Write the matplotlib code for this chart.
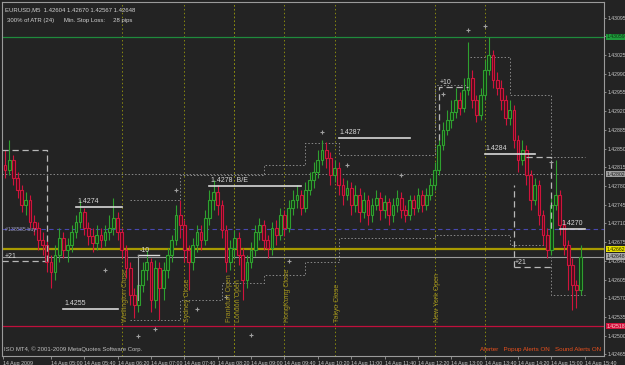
import matplotlib
matplotlib.use('Agg')
import matplotlib.pyplot as plt
from matplotlib.patches import Rectangle
from matplotlib.transforms import blended_transform_factory

plt.rcParams['font.family'] = ['Liberation Sans', 'DejaVu Sans']

# ---------------- data ----------------
first_open = 1.42819
closes = [1.42810, 1.42828, 1.42795, 1.42772, 1.42744, 1.42754, 1.42712, 1.42701, 1.42679, 1.42669,
          1.42638, 1.42619, 1.42651, 1.42682, 1.42660, 1.42669, 1.42694, 1.42712, 1.42731, 1.42701,
          1.42686, 1.42673, 1.42688, 1.42679, 1.42694, 1.42701, 1.42720, 1.42694, 1.42660, 1.42626,
          1.42576, 1.42557, 1.42594, 1.42623, 1.42638, 1.42566, 1.42626, 1.42589, 1.42623, 1.42651,
          1.42679, 1.42726, 1.42707, 1.42660, 1.42638, 1.42669, 1.42694, 1.42679, 1.42720, 1.42754,
          1.42769, 1.42744, 1.42697, 1.42638, 1.42664, 1.42682, 1.42651, 1.42604, 1.42638, 1.42660,
          1.42694, 1.42707, 1.42679, 1.42664, 1.42701, 1.42688, 1.42726, 1.42701, 1.42739, 1.42754,
          1.42763, 1.42739, 1.42772, 1.42791, 1.42806, 1.42828, 1.42847, 1.42832, 1.42800, 1.42814,
          1.42782, 1.42763, 1.42776, 1.42744, 1.42763, 1.42731, 1.42754, 1.42726, 1.42744, 1.42757,
          1.42735, 1.42750, 1.42726, 1.42744, 1.42757, 1.42735, 1.42726, 1.42754, 1.42739, 1.42763,
          1.42744, 1.42763, 1.42782, 1.42810, 1.42857, 1.42885, 1.42903, 1.42918, 1.42941, 1.42926,
          1.42960, 1.42982, 1.42941, 1.42913, 1.42950, 1.42997, 1.43025, 1.42978, 1.42963, 1.42941,
          1.42907, 1.42922, 1.42866, 1.42828, 1.42847, 1.42800, 1.42754, 1.42782, 1.42726, 1.42688,
          1.42660, 1.42744, 1.42763, 1.42707, 1.42669, 1.42632, 1.42594, 1.42585, 1.42648]
highs = [1.42847, 1.42866, 1.42838, 1.42806, 1.42782, 1.42769, 1.42763, 1.42726, 1.42712, 1.42694,
         1.42679, 1.42651, 1.42669, 1.42701, 1.42694, 1.42682, 1.42707, 1.42726, 1.42754, 1.42739,
         1.42712, 1.42701, 1.42707, 1.42701, 1.42707, 1.42726, 1.42757, 1.42731, 1.42701, 1.42669,
         1.42638, 1.42589, 1.42604, 1.42638, 1.42660, 1.42645, 1.42641, 1.42638, 1.42638, 1.42664,
         1.42688, 1.42744, 1.42754, 1.42716, 1.42669, 1.42682, 1.42707, 1.42707, 1.42735, 1.42772,
         1.42791, 1.42782, 1.42754, 1.42707, 1.42679, 1.42697, 1.42694, 1.42664, 1.42651, 1.42675,
         1.42707, 1.42720, 1.42716, 1.42688, 1.42712, 1.42716, 1.42739, 1.42735, 1.42754, 1.42772,
         1.42782, 1.42772, 1.42787, 1.42806, 1.42825, 1.42847, 1.42866, 1.42862, 1.42844, 1.42828,
         1.42825, 1.42795, 1.42791, 1.42787, 1.42782, 1.42776, 1.42769, 1.42763, 1.42757, 1.42772,
         1.42769, 1.42763, 1.42757, 1.42757, 1.42772, 1.42769, 1.42744, 1.42763, 1.42763, 1.42776,
         1.42772, 1.42776, 1.42795, 1.42825, 1.42870, 1.42900, 1.42922, 1.42941, 1.42963, 1.42956,
         1.42982, 1.43049, 1.42997, 1.42950, 1.42963, 1.43016, 1.43059, 1.43034, 1.42993, 1.42978,
         1.42950, 1.42941, 1.42931, 1.42875, 1.42866, 1.42857, 1.42810, 1.42795, 1.42791, 1.42735,
         1.42701, 1.42757, 1.42828, 1.42772, 1.42716, 1.42679, 1.42645, 1.42604, 1.42669]
lows = [1.42795, 1.42800, 1.42782, 1.42757, 1.42731, 1.42726, 1.42701, 1.42688, 1.42660, 1.42651,
        1.42619, 1.42589, 1.42604, 1.42638, 1.42645, 1.42638, 1.42656, 1.42682, 1.42701, 1.42688,
        1.42669, 1.42656, 1.42660, 1.42664, 1.42667, 1.42679, 1.42688, 1.42679, 1.42645, 1.42608,
        1.42557, 1.42533, 1.42544, 1.42581, 1.42604, 1.42544, 1.42551, 1.42529, 1.42566, 1.42608,
        1.42638, 1.42669, 1.42682, 1.42638, 1.42585, 1.42623, 1.42656, 1.42660, 1.42669, 1.42707,
        1.42735, 1.42726, 1.42682, 1.42619, 1.42623, 1.42645, 1.42632, 1.42566, 1.42589, 1.42626,
        1.42649, 1.42679, 1.42660, 1.42645, 1.42651, 1.42669, 1.42679, 1.42686, 1.42694, 1.42726,
        1.42739, 1.42726, 1.42731, 1.42763, 1.42776, 1.42795, 1.42819, 1.42814, 1.42782, 1.42787,
        1.42763, 1.42744, 1.42754, 1.42726, 1.42731, 1.42712, 1.42720, 1.42707, 1.42712, 1.42735,
        1.42716, 1.42720, 1.42707, 1.42712, 1.42731, 1.42720, 1.42712, 1.42716, 1.42726, 1.42731,
        1.42731, 1.42735, 1.42754, 1.42772, 1.42800, 1.42847, 1.42875, 1.42888, 1.42907, 1.42913,
        1.42918, 1.42950, 1.42926, 1.42900, 1.42903, 1.42941, 1.42988, 1.42963, 1.42950, 1.42922,
        1.42894, 1.42894, 1.42851, 1.42806, 1.42819, 1.42782, 1.42735, 1.42744, 1.42707, 1.42669,
        1.42645, 1.42651, 1.42735, 1.42688, 1.42651, 1.42585, 1.42548, 1.42551, 1.42576]
opens = [first_open] + closes[:-1]

time_label_bars = [-0.6, 11, 19, 27, 35, 43, 51, 59, 67, 75, 83, 91, 99, 107, 115, 123, 131, 139]
time_labels = ['14 Aug 2009', '14 Aug 05:00', '14 Aug 05:40', '14 Aug 06:20', '14 Aug 07:00',
               '14 Aug 07:40', '14 Aug 08:20', '14 Aug 09:00', '14 Aug 09:40', '14 Aug 10:20',
               '14 Aug 11:00', '14 Aug 11:40', '14 Aug 12:20', '14 Aug 13:00', '14 Aug 13:40',
               '14 Aug 14:20', '14 Aug 15:00', '14 Aug 15:40']
price_ticks = [1.42465, 1.42500, 1.42535, 1.42570, 1.42605, 1.42640, 1.42675, 1.42710, 1.42745,
               1.42780, 1.42815, 1.42850, 1.42885, 1.42920, 1.42955, 1.42990, 1.43025, 1.43060, 1.43095]

# session markers
session_bars = [28, 43, 55, 55, 67, 79, 103]
session_names = ['Wellington Close', 'Sydney Close', 'Frankfurt Open', 'London Open',
                 'HongKong Close', 'Tokyo Close', 'New York Open']
extra_vline_bars = [115]

# key price levels
level_high = 1.43059
level_range = 1.42802
level_order = 1.42699
level_yellow = 1.42662
level_close = 1.42648
level_low = 1.42518

# trade level segments (label, price, start bar, end bar)
seg_labels = ['1.4255', '1.4274', '1.4278  B/E', '1.4287', '1.4284', '1.4270']
seg_prices = [1.4255, 1.4274, 1.4278, 1.4287, 1.4284, 1.4270]
seg_start = [14, 17, 49, 80, 115, 133]
seg_end = [27, 28, 71, 97, 127, 139]

# ATR stop envelopes (step lines)
env_bars = [30, 42, 52, 62, 72, 80, 103, 111, 121, 131, 139]
env_upper = [1.42754, 1.42800, 1.42800, 1.42819, 1.42860, 1.42838, 1.42969, 1.43021, 1.42950, 1.42834, 1.42834]
env_lower = [1.42529, 1.42566, 1.42599, 1.42613, 1.42638, 1.42682, 1.42688, 1.42688, 1.42669, 1.42576, 1.42576]

# fractal markers
frac_bars = [24, 32, 36, 41, 46, 53, 59, 68, 76, 82, 95, 105, 111, 115, 131]
frac_prices = [1.42623, 1.42499, 1.42512, 1.42772, 1.42550, 1.42572, 1.42501, 1.42639,
               1.42880, 1.42820, 1.42800, 1.42952, 1.43072, 1.43079, 1.42825]

# ---------------- figure ----------------
BG = '#232323'
GREEN = '#2fa02f'
RED = '#d0143c'
fig = plt.figure(figsize=(6.25, 3.65), dpi=100, facecolor=BG)
ax = fig.add_axes([2/625, 1 - 356/365, 602/625, 354/365])
ax.set_facecolor(BG)
ax.set_xlim(-0.72, 143.6)
ax.set_ylim(1.42462, 1.43124)

for s in ax.spines.values():
    s.set_color('#9a9a9a')
    s.set_linewidth(0.8)

# session vertical lines
for b in session_bars + extra_vline_bars:
    ax.axvline(b, color='#8a8a10', lw=0.7, ls=(0, (1.5, 2.5)), zorder=1)

# horizontal levels
ax.axhline(level_high, color='#1f8a3c', lw=0.9, zorder=1)
ax.axhline(level_range, color='#8a8a8a', lw=0.7, ls=(0, (1.5, 2)), zorder=1)
ax.axhline(level_order, color='#4848b0', lw=0.8, ls=(0, (4, 3)), zorder=1)
ax.axhline(level_yellow, color='#a89a00', lw=1.6, zorder=1)
ax.axhline(level_close, color='#9a9a9a', lw=0.8, zorder=1)
ax.axhline(level_low, color='#c0103c', lw=0.9, zorder=1)

# envelopes
ax.step(env_bars, env_upper, where='post', color='#8a8a8a', lw=0.7, ls=(0, (1.5, 2)), zorder=1)
ax.step(env_bars, env_lower, where='post', color='#8a8a8a', lw=0.7, ls=(0, (1.5, 2)), zorder=1)

# candles
for i, (o, h, l, c) in enumerate(zip(opens, highs, lows, closes)):
    up = c >= o
    col = GREEN if up else RED
    face = '#123c14' if up else '#4e0c1c'
    ax.plot([i, i], [l, h], color=col, lw=0.8, zorder=3, solid_capstyle='butt')
    lo, hi = min(o, c), max(o, c)
    if hi - lo < 0.00002:
        ax.plot([i - 0.35, i + 0.35], [c, c], color=col, lw=0.8, zorder=4)
    else:
        ax.add_patch(Rectangle((i - 0.33, lo), 0.66, hi - lo, facecolor=face,
                               edgecolor=col, lw=0.8, zorder=4))

# trade segments
for lab, p, s0, s1 in zip(seg_labels, seg_prices, seg_start, seg_end):
    ax.plot([s0, s1], [p, p], color='#d8d8d8', lw=1.2, zorder=5)
    ax.text(s0 + 0.3, p + 0.00004, lab, color='#d8d8d8', fontsize=5, va='bottom', ha='left', zorder=6)

# target boxes (dashed)
dash = dict(color='#b8b8b8', lw=0.9, ls=(0, (5, 3)), zorder=5)
ax.plot([-0.7, 10, 10], [1.42847, 1.42847, 1.42636], **dash)
ax.plot([-0.7, 9.5], [1.42639, 1.42639], **dash)
ax.plot([104, 104, 111], [1.42866, 1.42965, 1.42965], **dash)
ax.plot([122, 131], [1.42628, 1.42628], **dash)
ax.plot([122, 122], [1.42628, 1.42782], **dash)
ax.plot([125, 131, 131], [1.42834, 1.42834, 1.42700], **dash)
ax.plot([32, 37], [1.42651, 1.42651], color='#d8d8d8', lw=1.0, zorder=5)
ax.plot([32, 32], [1.42651, 1.42566], color='#a0a0a0', lw=0.8, zorder=5)
ax.text(0.0, 1.42641, '+21', color='#d8d8d8', fontsize=5, va='bottom', zorder=6)
ax.text(32.2, 1.42653, '-10', color='#d8d8d8', fontsize=5, va='bottom', zorder=6)
ax.text(104.2, 1.42967, '+10', color='#d8d8d8', fontsize=5, va='bottom', zorder=6)
ax.text(122.2, 1.42630, '+21', color='#d8d8d8', fontsize=5, va='bottom', zorder=6)
ax.text(0.0, level_order, '#138585 buy', color='#a0a0c0', fontsize=3.8, va='center', zorder=6)

# fractals
ax.scatter(frac_bars, frac_prices, marker='+', s=10, color='#a0a0a0', lw=0.8, zorder=6)

# session labels
for b, name in zip(session_bars, session_names):
    off = 0.8 if name != 'Frankfurt Open' else -1.2
    if name == 'London Open':
        off = 0.9
    ax.text(b + off, 1.42525, name, rotation=90, color='#a09020', fontsize=5,
            ha='center', va='bottom', zorder=6)

# header / footer texts
ax.text(0.005, 0.985, 'EURUSD,M5  1.42604 1.42670 1.42567 1.42648', transform=ax.transAxes,
        color='#d0d0d0', fontsize=4.3, va='top', ha='left')
ax.text(0.008, 0.955, '300% of ATR (24)      Min. Stop Loss:     28 pips', transform=ax.transAxes,
        color='#d0d0d0', fontsize=4.3, va='top', ha='left')
ax.text(0.003, 0.012, 'ISO MT4, \u00a9 2001-2009 MetaQuotes Software Corp.', transform=ax.transAxes,
        color='#c0c0c0', fontsize=4.3, va='bottom', ha='left')
ax.text(0.995, 0.012, 'Alerter   Popup Alerts ON   Sound Alerts ON', transform=ax.transAxes,
        color='#e8501e', fontsize=4.5, va='bottom', ha='right')

# axes ticks
ax.yaxis.tick_right()
ax.set_yticks(price_ticks)
ax.set_yticklabels(['%.5f' % p for p in price_ticks])
ax.tick_params(axis='y', colors='#9a9a9a', labelcolor='#c8c8c8', labelsize=3.7, length=1.5, width=0.6, pad=1)
ax.set_xticks(time_label_bars)
ax.set_xticklabels(time_labels, ha='left')
ax.tick_params(axis='x', colors='#9a9a9a', labelcolor='#c8c8c8', labelsize=3.8, length=2, width=0.6, pad=1.5)

# highlighted right-axis price boxes
tr = blended_transform_factory(ax.transAxes, ax.transData)
boxes = [(level_high, '1.43059', '#1f9a3c', '#0c3a12'),
         (level_range, '1.42802', '#a0a0a0', '#202020'),
         (level_yellow, '1.42662', '#e8e000', '#202000'),
         (level_close, '1.42648', '#a8a8a8', '#202020'),
         (level_low, '1.42518', '#d0103c', '#ffd0d0')]
for p, t, fc, tc in boxes:
    ax.text(1.0045, p, t, transform=tr, color=tc, fontsize=3.7, va='center', ha='left', zorder=10,
            bbox=dict(boxstyle='square,pad=0.12', facecolor=fc, edgecolor='none'), clip_on=False)

fig.savefig('out.png', dpi=100, facecolor=BG)
